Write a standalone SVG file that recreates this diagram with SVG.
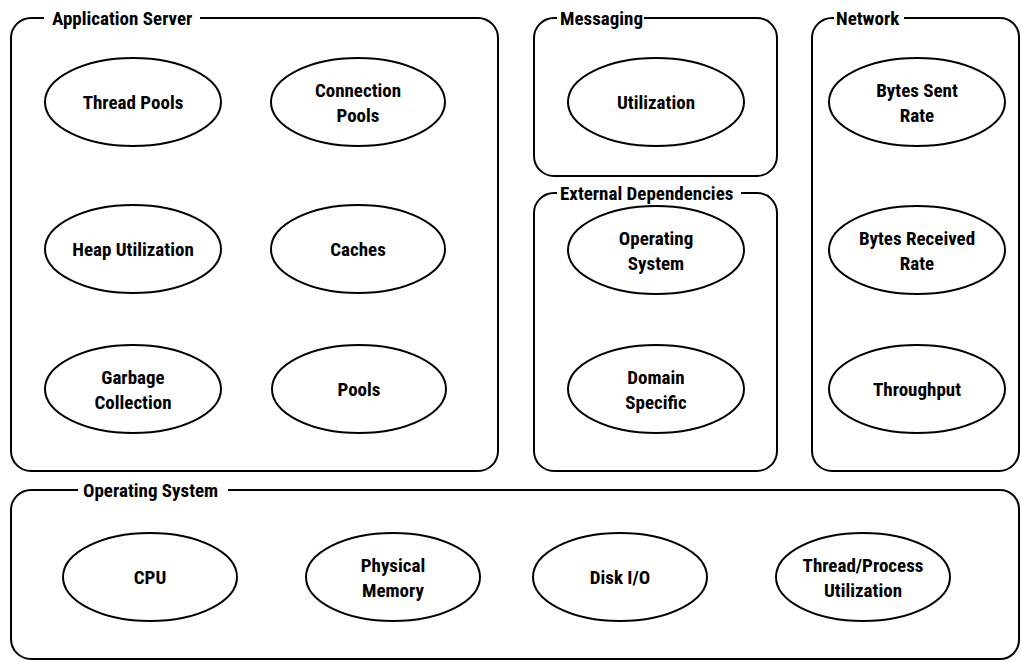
<svg xmlns="http://www.w3.org/2000/svg" width="1021" height="661" viewBox="0 0 1021 661">
<style>
.box{fill:none;stroke:#000;stroke-width:2}
.el{fill:#fff;stroke:#000;stroke-width:2}
text{font-family:"Liberation Sans Narrow","Roboto Condensed","DejaVu Sans Condensed","Liberation Sans",sans-serif;font-weight:bold;font-size:19px;fill:#000}
.c{text-anchor:middle}
</style>
<rect width="1021" height="661" fill="#fff"/>
<g id="connectors"></g>
<g id="app-server">
<path class="box" d="M200,18 H478 A20,20 0 0 1 498,38 V451 A20,20 0 0 1 478,471 H31 A20,20 0 0 1 11,451 V38 A20,20 0 0 1 31,18 H44"/>
<text x="52" y="25">Application Server</text>
</g>
<g id="messaging">
<path class="box" d="M644,18 H757 A20,20 0 0 1 777,38 V156 A20,20 0 0 1 757,176 H554 A20,20 0 0 1 534,156 V38 A20,20 0 0 1 554,18 H557"/>
<text x="560" y="25">Messaging</text>
</g>
<g id="external-deps">
<path class="box" d="M741,193 H757 A20,20 0 0 1 777,213 V451 A20,20 0 0 1 757,471 H554 A20,20 0 0 1 534,451 V213 A20,20 0 0 1 554,193 H557"/>
<text x="560" y="200">External Dependencies</text>
</g>
<g id="network">
<path class="box" d="M904,18 H1000 A19,19 0 0 1 1019,37 V451 A20,20 0 0 1 999,471 H832 A20,20 0 0 1 812,451 V38 A20,20 0 0 1 832,18 H834"/>
<text x="836" y="25">Network</text>
</g>
<g id="operating-system">
<path class="box" d="M228,490 H1000 A19,19 0 0 1 1019,509 V640 A19,19 0 0 1 1000,659 H31 A20,20 0 0 1 11,639 V510 A20,20 0 0 1 31,490 H78"/>
<text x="83" y="497">Operating System</text>
</g>
<g id="thread-pools"><ellipse class="el" cx="133" cy="102" rx="88" ry="44"/><text class="c" x="133" y="109">Thread Pools</text></g>
<g id="connection-pools"><ellipse class="el" cx="358" cy="102" rx="87" ry="44"/><text class="c" x="358" y="97">Connection</text><text class="c" x="358" y="122">Pools</text></g>
<g id="heap-utilization"><ellipse class="el" cx="133" cy="249" rx="88" ry="44"/><text class="c" x="133" y="256">Heap Utilization</text></g>
<g id="caches"><ellipse class="el" cx="358" cy="249" rx="87" ry="44"/><text class="c" x="358" y="256">Caches</text></g>
<g id="garbage-collection"><ellipse class="el" cx="133" cy="389" rx="88" ry="44"/><text class="c" x="133" y="384">Garbage</text><text class="c" x="133" y="409">Collection</text></g>
<g id="pools"><ellipse class="el" cx="359" cy="389" rx="87" ry="44"/><text class="c" x="359" y="396">Pools</text></g>
<g id="utilization"><ellipse class="el" cx="656" cy="102" rx="88" ry="44"/><text class="c" x="656" y="109">Utilization</text></g>
<g id="os-dep"><ellipse class="el" cx="656" cy="250" rx="88" ry="44"/><text class="c" x="656" y="245">Operating</text><text class="c" x="656" y="270">System</text></g>
<g id="domain-specific"><ellipse class="el" cx="656" cy="389" rx="88" ry="44"/><text class="c" x="656" y="384">Domain</text><text class="c" x="656" y="409">Specific</text></g>
<g id="bytes-sent"><ellipse class="el" cx="917" cy="102" rx="88" ry="44"/><text class="c" x="917" y="97">Bytes Sent</text><text class="c" x="917" y="122">Rate</text></g>
<g id="bytes-received"><ellipse class="el" cx="917" cy="250" rx="88" ry="44"/><text class="c" x="917" y="245">Bytes Received</text><text class="c" x="917" y="270">Rate</text></g>
<g id="throughput"><ellipse class="el" cx="917" cy="389" rx="88" ry="44"/><text class="c" x="917" y="396">Throughput</text></g>
<g id="cpu"><ellipse class="el" cx="150" cy="577" rx="87" ry="44"/><text class="c" x="150" y="584">CPU</text></g>
<g id="physical-memory"><ellipse class="el" cx="393" cy="577" rx="87" ry="44"/><text class="c" x="393" y="572">Physical</text><text class="c" x="393" y="597">Memory</text></g>
<g id="disk-io"><ellipse class="el" cx="620" cy="577" rx="87" ry="44"/><text class="c" x="620" y="584">Disk I/O</text></g>
<g id="thread-process"><ellipse class="el" cx="863" cy="577" rx="87" ry="44"/><text class="c" x="863" y="572">Thread/Process</text><text class="c" x="863" y="597">Utilization</text></g>
</svg>
